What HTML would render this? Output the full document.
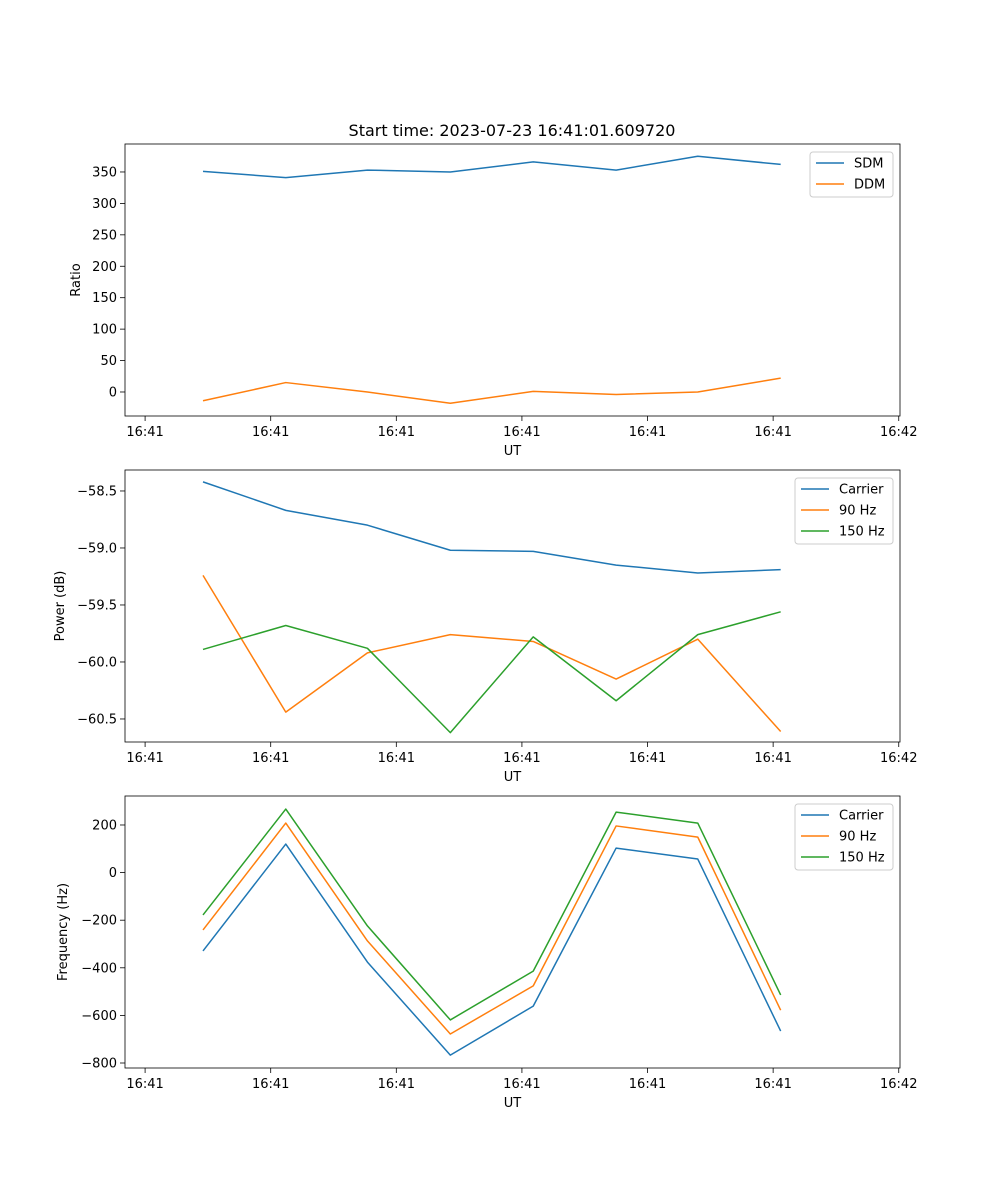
<!DOCTYPE html>
<html><head><meta charset="utf-8"><style>
html,body{margin:0;padding:0;background:#fff;}
svg{display:block;font-family:"DejaVu Sans","Liberation Sans",sans-serif;}
</style></head><body>
<svg id="fig" width="1000" height="1200"></svg>
<script>
const times=[4.61,11.2,17.7,24.3,30.9,37.5,44.0,50.6];
const xTickVals=[0,10,20,30,40,50,60];
const xTickLabels=["16:41","16:41","16:41","16:41","16:41","16:41","16:42"];
const sdm=[351,341,353,350,366,353,375,362];
const ddm=[-14,15,0,-18,1,-4,0,22];
const pCarrier=[-58.42,-58.67,-58.80,-59.02,-59.03,-59.15,-59.22,-59.19];
const p90=[-59.24,-60.44,-59.92,-59.76,-59.82,-60.15,-59.80,-60.61];
const p150=[-59.89,-59.68,-59.88,-60.62,-59.78,-60.34,-59.76,-59.56];
const fCarrier=[-329,120,-376,-767,-561,103,57,-666];
const f90=[-241,208,-287,-678,-476,196,149,-578];
const f150=[-178,267,-224,-619,-414,254,208,-514];
const ticks1=[0,50,100,150,200,250,300,350];
const ticks2=[-58.5,-59.0,-59.5,-60.0,-60.5];
const ticks3=[200,0,-200,-400,-600,-800];

const NS="http://www.w3.org/2000/svg";
const svg=document.getElementById('fig');
function mk(tag,attrs,parent,text){const e=document.createElementNS(NS,tag);for(const k in attrs)e.setAttribute(k,attrs[k]);if(text!==undefined)e.textContent=text;(parent||svg).appendChild(e);return e;}
const C=['#1f77b4','#ff7f0e','#2ca02c'];
const L=125,R=900;
const xs=t=>L+(t-(-1.6))/(60.1-(-1.6))*(R-L);

function panel(name,top,bot,yMin,yMax,ticks,fmt,ylabel,series,names,legend){
  const g=mk('g',{});
  
  
  const ys=v=>bot-(v-yMin)/(yMax-yMin)*(bot-top);
  series.forEach((s,i)=>{
    const pl=mk('polyline',{points:s.map((v,j)=>xs(times[j])+','+ys(v)).join(' '),fill:'none',stroke:C[i],'stroke-width':1.5,'stroke-linejoin':'round'},g);
    
    
  });
  mk('rect',{x:L,y:top,width:R-L,height:bot-top,fill:'none',stroke:'#000','stroke-width':0.8},g);
  const ya=mk('g',{},g);
  
  
  ticks.forEach(v=>{const y=ys(v);mk('line',{x1:L-5,x2:L,y1:y,y2:y,stroke:'#000','stroke-width':0.8},ya);
    mk('text',{x:L-8,y:y+4.5,'text-anchor':'end','font-size':13},ya,fmt(v));});
  const xa=mk('g',{},g);
  
  
  xTickVals.forEach((v,i)=>{const x=xs(v);mk('line',{x1:x,x2:x,y1:bot,y2:bot+5,stroke:'#000','stroke-width':0.8},xa);
    mk('text',{x:x,y:bot+20,'text-anchor':'middle','font-size':13},xa,xTickLabels[i]);});
  const xl=mk('text',{x:(L+R)/2,y:bot+39,'text-anchor':'middle','font-size':13},g,'UT');
  
  
  const cy=(top+bot)/2;
  const yl=mk('text',{x:0,y:0,'text-anchor':'middle','font-size':13,transform:`translate(${legend.ylx},${cy}) rotate(-90)`},g,ylabel);
  
  
  const lg=mk('g',{},g);
  
  
  const h=names.length*21+3;
  mk('rect',{x:legend.x,y:top+8,width:R-7-legend.x,height:h,rx:3,fill:'#fff','fill-opacity':0.8,stroke:'#ccc','stroke-width':1},lg);
  names.forEach((n,i)=>{const y=top+8+11+i*21;
    const e=mk('g',{},lg);
    
    
    mk('line',{x1:legend.x+6,x2:legend.x+34,y1:y,y2:y,stroke:C[i],'stroke-width':1.5},e);
    mk('text',{x:legend.x+44,y:y+4.5,'font-size':13},e,n);});
}
const title=mk('text',{x:512,y:136,'text-anchor':'middle','font-size':16},svg,'Start time: 2023-07-23 16:41:01.609720');


panel('ratio',144,416,-38.2,394.5,ticks1,v=>String(v).replace('-','\u2212'),'Ratio',[sdm,ddm],['SDM','DDM'],{x:810,ylx:80});
panel('power',470,742,-60.702,-58.316,ticks2,v=>v.toFixed(1).replace('-','\u2212'),'Power (dB)',[pCarrier,p90,p150],['Carrier','90 Hz','150 Hz'],{x:795,ylx:64});
panel('frequency',796,1068,-821,321.8,ticks3,v=>String(v).replace('-','\u2212'),'Frequency (Hz)',[fCarrier,f90,f150],['Carrier','90 Hz','150 Hz'],{x:795,ylx:67});
</script>
</body></html>
